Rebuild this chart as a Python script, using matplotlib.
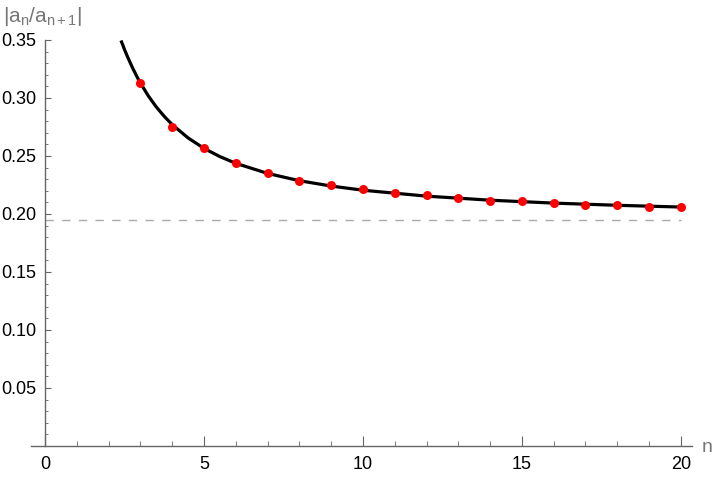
import matplotlib
matplotlib.use("Agg")
import matplotlib.pyplot as plt
from matplotlib.ticker import MultipleLocator, FormatStrFormatter

plt.rcParams["font.family"] = ["Liberation Sans", "DejaVu Sans"]
plt.rcParams["mathtext.fontset"] = "custom"
plt.rcParams["mathtext.rm"] = "Liberation Sans"
plt.rcParams["mathtext.it"] = "Liberation Sans"

# ratio data |a_n / a_(n+1)|
n_vals = [3, 4, 5, 6, 7, 8, 9, 10, 11, 12, 13, 14, 15, 16, 17, 18, 19, 20]
ratios = [0.3132, 0.2750, 0.2566, 0.2440, 0.2356, 0.2284, 0.2253, 0.2218, 0.2184,
          0.2165, 0.2135, 0.2115, 0.2112, 0.2097, 0.2080, 0.2080, 0.2063, 0.2062]

# smooth curve
curve_n = [2.39, 2.45, 2.5, 2.6, 2.75, 2.9, 3, 3.25, 3.5, 3.75, 4, 4.5, 5, 5.5, 6,
           7, 8, 9, 10, 12, 14, 16, 18, 20]
curve_y = [0.3496, 0.3455, 0.3418, 0.3353, 0.3262, 0.3180, 0.3130, 0.3018, 0.2923,
           0.2842, 0.2771, 0.2656, 0.2566, 0.2495, 0.2437, 0.2350, 0.2287, 0.2241,
           0.2205, 0.2154, 0.2119, 0.2094, 0.2075, 0.2060]

limit_value = 0.1946
limit_span = [0, 20]

fig = plt.figure(figsize=(7.2, 4.82), dpi=100)
ax = fig.add_axes([31 / 720, 1 - 446 / 482, 661 / 720, 406 / 482])

ax.plot(limit_span, [limit_value, limit_value], color="#aaaaaa", lw=1.0,
        dashes=(6, 6))
ax.plot(curve_n, curve_y, color="black", lw=2.3, solid_capstyle="butt",
        solid_joinstyle="round", zorder=3)
ax.plot(n_vals, ratios, "o", color="#ff0000", ms=6.5, mec="none", zorder=4)

ax.set_xlim(-0.44, 20.35)
ax.set_ylim(0, 0.35)

axis_gray = "#666666"
for side in ["top", "right"]:
    ax.spines[side].set_visible(False)
ax.spines["left"].set_position(("data", 0))
ax.spines["left"].set_color(axis_gray)
ax.spines["bottom"].set_color(axis_gray)
ax.spines["left"].set_linewidth(1.0)
ax.spines["bottom"].set_linewidth(1.0)

ax.xaxis.set_major_locator(MultipleLocator(5))
ax.xaxis.set_minor_locator(MultipleLocator(1))
ax.yaxis.set_minor_locator(MultipleLocator(0.01))
ax.yaxis.set_major_formatter(FormatStrFormatter("%.2f"))
ax.set_yticks([0.05, 0.10, 0.15, 0.20, 0.25, 0.30, 0.35])

ax.tick_params(axis="x", which="major", direction="in", length=7, width=0.8,
               color=axis_gray, labelsize=13, pad=7, labelcolor="black")
ax.tick_params(axis="x", which="minor", direction="in", length=3.5, width=0.6,
               color=axis_gray)
ax.tick_params(axis="y", which="major", direction="in", length=4, width=0.8,
               color=axis_gray, labelsize=13, pad=6, labelcolor="black")
ax.tick_params(axis="y", which="minor", direction="in", length=2.4, width=0.6,
               color=axis_gray)

fig.text(3 / 720, 1 - 16 / 482, r"$|a_n/a_{n+1}|$", color="#777777", fontsize=15,
         ha="left", va="center")
fig.text(707 / 720, 1 - 447 / 482, "n", color="#777777", fontsize=14,
         ha="center", va="center")

fig.savefig("out.png", dpi=100)
